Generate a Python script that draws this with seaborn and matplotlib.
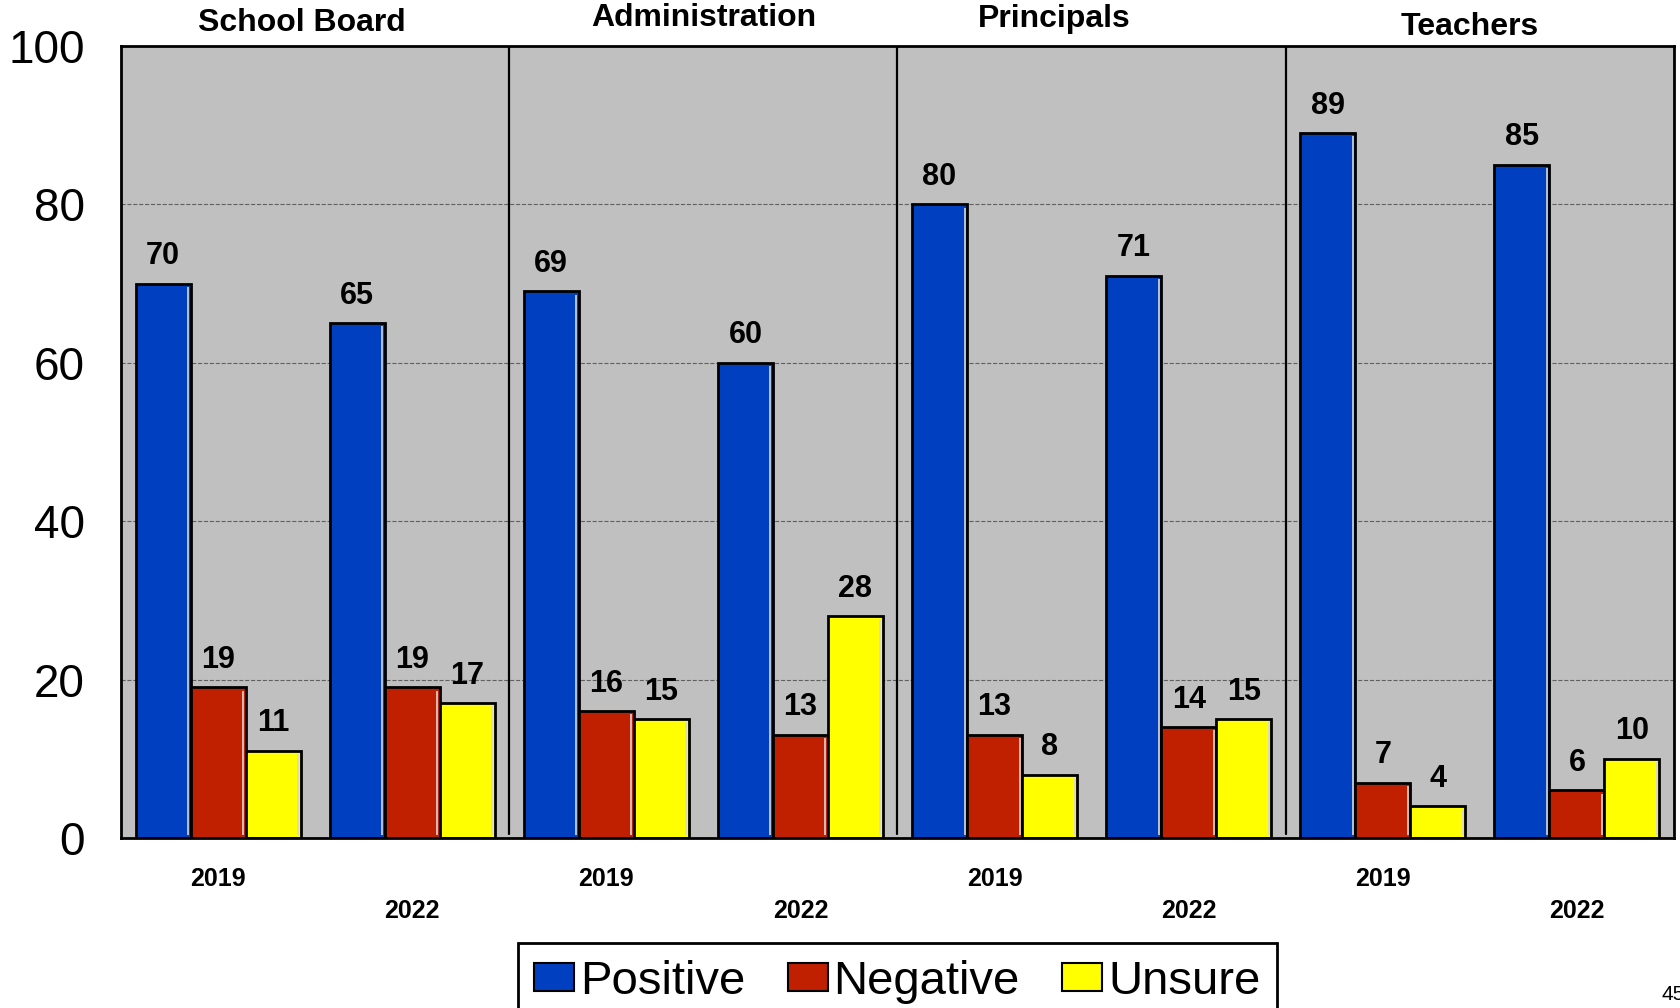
import pandas as pd
import seaborn as sns
from matplotlib import pyplot as plt
from matplotlib import transforms
from matplotlib.patches import Patch

groups = ["School Board", "Administration", "Principals", "Teachers"]
years = ["2019", "2022"]
responses = ["Positive", "Negative", "Unsure"]

# one value per cluster: group x year, in order
positive = [70, 65, 69, 60, 80, 71, 89, 85]
negative = [19, 19, 16, 13, 13, 14, 7, 6]
unsure = [11, 17, 15, 28, 8, 15, 4, 10]

colors = ["#0040C0", "#C02000", "#FFFF00"]


def main():
    sns.set_style("white")
    plt.rcParams['font.family'] = ['Liberation Sans', 'DejaVu Sans']
    plt.rcParams['text.color'] = 'black'
    plt.rcParams['ytick.color'] = 'black'
    plt.rcParams['ytick.labelcolor'] = 'black'

    clusters = [g + " " + y for g in groups for y in years]
    df = pd.DataFrame({
        "cluster": clusters * 3,
        "response": [r for r in responses for _ in clusters],
        "value": positive + negative + unsure,
    })

    fig = plt.figure(figsize=(16.8, 10.08), dpi=100)
    ax = fig.add_axes([0.072, 0.1687, 0.9244, 0.7857])
    ax.set_facecolor("#C0C0C0")

    sns.barplot(data=df, x="cluster", y="value", hue="response",
                order=clusters, hue_order=responses, palette=colors,
                width=0.85, edgecolor="black", linewidth=2,
                saturation=1, legend=False, errorbar=None, ax=ax)

    # light inner highlight on the right side of each bar
    hl = transforms.offset_copy(ax.transData, fig, x=-2.5, y=0, units='dots')
    for c in ax.containers:
        for p in c.patches:
            xr = p.get_x() + p.get_width()
            ax.plot([xr, xr], [0.4, p.get_height() - 0.4], color='#D8D8D8',
                    lw=1.2, transform=hl, solid_capstyle='butt', zorder=3)

    for c in ax.containers:
        ax.bar_label(c, fmt='%d', padding=9, fontsize=22, fontweight='bold',
                     color='black')

    ax.set_ylim(0, 100)
    ax.set_xlim(-0.5, len(clusters) - 0.5)
    ax.set_yticks(range(0, 101, 20))
    ax.tick_params(axis='y', length=0, pad=26, labelsize=33, labelcolor='black')
    ax.set_xticks([])
    ax.set_xlabel('')
    ax.set_ylabel('')
    ax.yaxis.grid(True, linestyle='--', color='#606060', linewidth=0.8)
    ax.set_axisbelow(True)
    for s in ax.spines.values():
        s.set_visible(True)
        s.set_color('black')
        s.set_linewidth(2)

    for x in [1.5, 3.5, 5.5]:
        ax.axvline(x, ymin=0.005, ymax=1, color='black', lw=1.6)

    trans = transforms.blended_transform_factory(ax.transData, ax.transAxes)

    # staggered year labels
    year_y = [-0.0518, -0.0922]
    for i in range(len(clusters)):
        ax.text(i, year_y[i % 2], years[i % 2], transform=trans,
                ha='center', va='center', fontsize=18, fontweight='bold')

    title_dx = [-0.07, 0.0, -0.19, -0.05]
    title_y = [1.0284, 1.0354, 1.0341, 1.0240]
    for k, g in enumerate(groups):
        ax.text(2 * k + 0.5 + title_dx[k], title_y[k], g, transform=trans,
                ha='center', va='center', fontsize=23, fontweight='bold')

    handles = [Patch(facecolor=c, edgecolor='black', linewidth=1.5) for c in colors]
    leg = fig.legend(handles, responses, loc='upper center',
                     bbox_to_anchor=(0.534, 0.0645), ncol=3, fontsize=34,
                     frameon=True, fancybox=False, edgecolor='black', framealpha=1,
                     handlelength=0.85, handleheight=0.55, handletextpad=0.12,
                     columnspacing=0.9, borderpad=0.35, borderaxespad=0)
    leg.get_frame().set_linewidth(2)

    fig.text(1662 / 1680, 1 - 1000 / 1008, '45', ha='left', va='baseline', fontsize=15)

    fig.savefig('out.png', dpi=100)


if __name__ == '__main__':
    main()
